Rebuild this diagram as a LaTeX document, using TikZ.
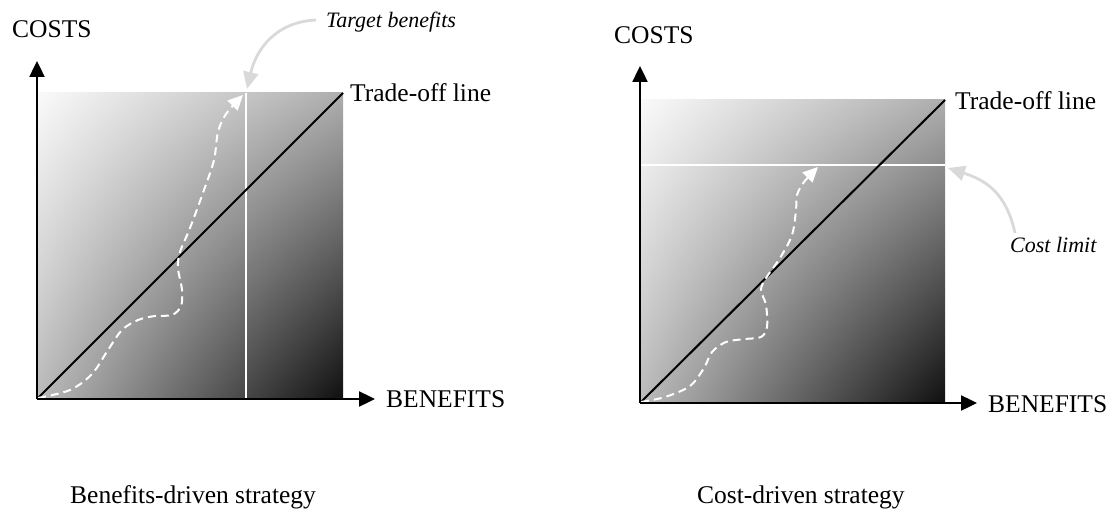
\documentclass[tikz,border=0pt]{standalone}
\usepackage{fontspec}
\setmainfont{Liberation Serif}
\usetikzlibrary{arrows.meta,shadings}
\begin{document}
\begin{tikzpicture}[x=1pt,y=-1pt,
  lbl/.style={inner sep=0pt, anchor=base west, font=\fontsize{25.5}{30}\selectfont},
  ilbl/.style={inner sep=0pt, anchor=base west, font=\fontsize{22}{26}\selectfont\itshape},
  axis/.style={line width=2.4pt, -{Triangle[length=16pt,width=15pt]}},
  trade/.style={line width=2pt, black},
  limit/.style={line width=2.4pt, white},
  wpath/.style={white, line width=2pt, dash pattern=on 8pt off 5pt, -{Triangle[length=15pt,width=14pt]}},
  callout/.style={draw=black!15, line width=2.8pt, -{Triangle[length=17pt,width=15pt]}},
  box/.style={upper left=black!2, upper right=black!32, lower left=black!27, lower right=black!94},
]
\path[use as bounding box] (0,0) rectangle (1114,516);

% ---------- left panel ----------
\coordinate (O1) at (37,399);
\coordinate (Y1) at (37,61);
\coordinate (X1) at (375,399);
\coordinate (TR1) at (343,93);
\shade[box] (O1) rectangle (TR1);
\coordinate (VT) at (246,93);
\coordinate (VB) at (246,399);
\draw[limit] (VT) -- (VB);
\draw[trade] (O1) -- (TR1);
\draw[wpath] plot[smooth, tension=0.55] coordinates {(38,398) (70,390) (92,374) (108,350) (122,330) (138,320) (155,316) (172,315) (181,306) (182,290) (178,268) (180,252) (190,228) (204,190) (214,160) (218,132) (226,114) (243,95)};
\draw[axis] (O1) -- (Y1);
\draw[axis] (O1) -- (X1);
\coordinate (tbS) at (316,20);
\coordinate (tbE) at (247,89);
\draw[callout] (tbS) .. controls (275,22) and (256,50) .. (tbE);

\node[lbl] (costsL) at (12,38) {COSTS};
\node[lbl] (tradeL) at (350,102) {Trade-off line};
\node[lbl] (benL) at (386,407) {BENEFITS};
\node[ilbl] (targ) at (326,28) {Target benefits};
\node[lbl] (capL) at (70,503) {Benefits-driven strategy};

% ---------- right panel ----------
\coordinate (O2) at (640,403);
\coordinate (Y2) at (640,66);
\coordinate (X2) at (977,403);
\coordinate (TR2) at (945,100);
\shade[box] (O2) rectangle (TR2);
\coordinate (HL) at (640,165);
\coordinate (HR) at (945,165);
\draw[limit] (HL) -- (HR);
\draw[trade] (O2) -- (TR2);
\draw[wpath] plot[smooth, tension=0.55] coordinates {(641,402) (665,397) (690,386) (704,368) (712,352) (726,342) (745,339) (761,337) (767,327) (766,305) (761,290) (766,278) (780,258) (792,235) (796,210) (797,195) (804,182) (818,167)};
\draw[axis] (O2) -- (Y2);
\draw[axis] (O2) -- (X2);
\coordinate (clS) at (1015,233);
\coordinate (clE) at (948,168);
\draw[callout] (clS) .. controls (1006,192) and (985,180) .. (clE);

\node[lbl] (costsR) at (614,44) {COSTS};
\node[lbl] (tradeR) at (955,110) {Trade-off line};
\node[lbl] (benR) at (988,412) {BENEFITS};
\node[ilbl] (climit) at (1010,252) {Cost limit};
\node[lbl] (capR) at (697,503) {Cost-driven strategy};
\end{tikzpicture}
\end{document}
